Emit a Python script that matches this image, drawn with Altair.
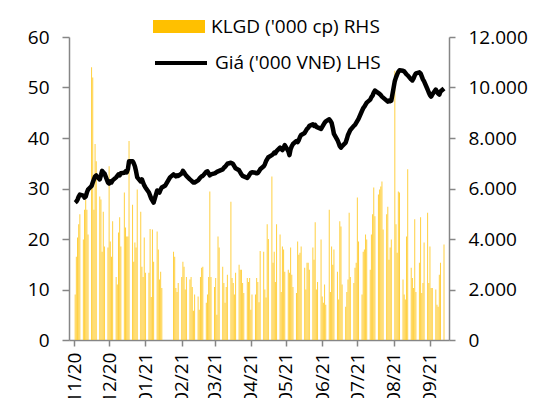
import altair as alt
import pandas as pd

FONT = "Open Sans"
FS = 19

# trading days (weekdays) 02/11/2020 .. 13/09/2021
dates = pd.bdate_range("2020-11-02", "2021-09-13").strftime("%Y-%m-%d").tolist()

# Giá ('000 VNĐ) - LHS
price = [
    27.2, 27.4, 27.8, 28.4, 28.8,
    28.6, 28.2, 28.4, 29.2, 29.8,
    30.5, 31.2, 31.8, 32.4, 32.6,
    31.8, 32.6, 33.5, 33.2, 33.0,
    31.2, 31.0, 31.4, 31.2, 31.6,
    32.2, 32.5, 32.8, 32.6, 33.0,
    33.1, 33.4, 33.2, 33.8, 35.4,
    35.4, 35.0, 34.4, 33.4, 32.2,
    31.4, 31.8, 31.2, 30.6, 30.2,
    29.2, 28.6, 28.0, 27.6, 27.2,
    29.6, 29.4, 29.2, 29.8, 30.2,
    30.6, 31.0, 31.4, 31.8, 32.2,
    32.8, 32.6, 32.4, 32.6, 32.5,
    33.0, 33.5, 33.2, 32.8, 32.5,
    31.8, 31.6, 31.4, 31.2, 31.2,
    31.6, 31.9, 32.2, 32.4, 32.5,
    33.3, 33.4, 33.0, 32.6, 32.8,
    33.0, 33.1, 33.3, 33.4, 33.5,
    33.8, 34.1, 34.3, 34.6, 34.9,
    35.1, 35.0, 34.8, 34.4, 34.0,
    33.6, 33.2, 32.8, 32.5, 32.4,
    32.1, 32.4, 32.8, 33.1, 33.2,
    33.1, 33.0, 33.1, 33.4, 33.8,
    34.4, 34.8, 35.4, 35.8, 36.2,
    36.6, 36.8, 37.1, 37.0, 37.4,
    38.1, 37.8, 37.6, 38.0, 38.6,
    37.4, 36.6, 37.8, 38.4, 38.8,
    39.4, 39.2, 39.6, 40.2, 40.6,
    41.0, 41.4, 41.8, 42.0, 42.4,
    42.7, 42.4, 42.6, 42.2, 42.1,
    41.8, 42.2, 42.6, 43.0, 43.3,
    43.7, 43.4, 43.0, 42.0, 40.8,
    39.6, 39.0, 38.4, 38.1, 38.4,
    39.1, 39.8, 40.6, 41.1, 41.6,
    42.4, 42.6, 43.0, 43.4, 43.8,
    45.4, 45.9, 46.2, 46.6, 47.0,
    47.6, 48.1, 48.4, 49.0, 49.4,
    48.9, 48.7, 48.5, 48.2, 48.0,
    47.4, 47.2, 47.4, 47.3, 47.4,
    51.3, 52.0, 52.6, 53.1, 53.4,
    53.3, 53.2, 52.9, 52.6, 52.4,
    51.6, 51.4, 51.8, 52.4, 52.8,
    53.0, 52.8, 52.2, 51.6, 51.2,
    49.6, 49.0, 48.5, 48.2, 48.6,
    49.6, 49.2, 48.8, 48.6, 49.2,
    49.8,
]

# KLGD ('000 cp) - RHS
volume = [
    1800, 3300, 4060, 4580, 4980,
    3980, 5160, 5560, 5160, 4180,
    10800, 10400, 5160, 7760, 7080,
    5680, 5560, 3500, 5080, 3700,
    3660, 6880, 3900, 3300, 4700,
    2500, 2200, 4260, 4860, 3700,
    5840, 4460, 4100, 4100, 7880,
    5360, 3100, 3860, 3660, 5960,
    5080, 2900, 2500, 4060, 2660,
    2660, 4400, 1700, 4380, 3100,
    4300, 3580, 2400, 2700, 2060,
    0, 0, 0, 0, 0,
    3500, 3300, 2060, 1900, 2260,
    2500, 3100, 2900, 2000, 2500,
    2400, 2500, 2100, 1160, 1800,
    1720, 1200, 2500, 2860, 2900,
    1480, 1800, 2500, 5880, 2500,
    2100, 2460, 1000, 4100, 3660,
    2900, 2260, 1480, 2100, 2580,
    5480, 2460, 2260, 1800, 2660,
    2980, 2780, 2780, 2260, 1860,
    2460, 2300, 2460, 1200, 1800,
    1800, 2460, 2300, 1500, 3520,
    3500, 2000, 1680, 4580, 4000,
    6480, 3060, 3500, 2300, 4580,
    4180, 1900, 3700, 3580, 2700,
    2780, 2660, 3660, 2580, 2100,
    1860, 3900, 3380, 3460, 3700,
    2860, 2000, 3060, 3060, 2780,
    3660, 3180, 4660, 2000, 2300,
    3980, 1720, 1480, 2200, 1400,
    5160, 1900, 3700, 2980, 3580,
    2700, 1600, 4700, 4500, 2200,
    1320, 1900, 2400, 5040, 2500,
    2260, 2860, 3060, 5640, 3900,
    1800, 3500, 3580, 4180, 3980,
    2780, 4180, 4980, 6040, 4900,
    5760, 5960, 6080, 6280, 4380,
    4980, 5280, 3180, 3660, 3980,
    10660, 4580, 3460, 5880, 5840,
    2400, 1800, 1600, 4100, 6760,
    2860, 2460, 2060, 4780, 1900,
    3060, 4860, 1860, 2260, 3860,
    5040, 2260, 3700, 2060, 2060,
    2000, 1400, 1320, 2580, 3060,
    3780,
]

S1 = "KLGD ('000 cp) RHS"
S2 = "Giá ('000 VNĐ) LHS"

df = pd.DataFrame({"date": dates, "price": price, "volume": volume})
df["s1"] = S1
df["s2"] = S2

months = [(2020, 11), (2020, 12), (2021, 1), (2021, 2), (2021, 3), (2021, 4),
          (2021, 5), (2021, 6), (2021, 7), (2021, 8), (2021, 9)]
tick_vals = [alt.DateTime(year=y, month=m, date=1, utc=True) for y, m in months]

x_enc = alt.X(
    "date:T",
    scale=alt.Scale(type="utc",
                    domain=[alt.DateTime(year=2020, month=11, date=1, utc=True),
                            alt.DateTime(year=2021, month=9, date=13, utc=True)]),
    axis=alt.Axis(values=tick_vals, labelExpr="utcFormat(datum.value, '%m/%y')",
                  labelAngle=270, labelAlign="right", labelBaseline="middle",
                  tickSize=6, labelPadding=6, title=None, grid=False),
)

GRAY = "#868686"

bars = alt.Chart(df).mark_bar(width=1.0, opacity=0.75).encode(
    x=x_enc,
    y=alt.Y("volume:Q",
            scale=alt.Scale(domain=[0, 12000], nice=False),
            axis=alt.Axis(orient="right", values=[0, 2000, 4000, 6000, 8000, 10000, 12000],
                          labelExpr="replace(format(datum.value, ','), ',', '.')",
                          tickSize=6, labelPadding=13, title=None, grid=False)),
    color=alt.Color("s1:N", scale=alt.Scale(domain=[S1], range=["#FFC000"]),
                    legend=alt.Legend(orient="none", legendX=84, legendY=-36.5, title=None,
                                      symbolType="M-1,-0.25H1V0.25H-1Z", symbolSize=2704,
                                      symbolStrokeWidth=0, symbolOpacity=1,
                                      labelFontSize=FS, labelFont=FONT, labelColor="black",
                                      labelLimit=400, labelOffset=6, padding=0)),
)

line = alt.Chart(df).mark_line(strokeWidth=4.5, strokeJoin="round").encode(
    x=x_enc,
    y=alt.Y("price:Q",
            scale=alt.Scale(domain=[0, 60], nice=False),
            axis=alt.Axis(orient="left", values=[0, 10, 20, 30, 40, 50, 60],
                          tickSize=7, labelPadding=13, title=None, grid=False)),
    stroke=alt.Stroke("s2:N", scale=alt.Scale(domain=[S2], range=["black"]),
                      legend=alt.Legend(orient="none", legendX=84, legendY=-2, title=None,
                                        symbolType="stroke", symbolSize=2704,
                                        symbolStrokeWidth=4, symbolStrokeColor="black",
                                        labelFontSize=FS, labelFont=FONT, labelColor="black",
                                        labelLimit=400, labelOffset=6, padding=0)),
)

chart = alt.layer(bars, line).resolve_scale(y="independent", color="independent").properties(
    width=380, height=303,
    autosize=alt.AutoSizeParams(type="none"),
    padding={"left": 61, "top": 29, "right": 79, "bottom": 58},
).configure_view(stroke=None).configure_axis(
    domainColor=GRAY, tickColor=GRAY, domainWidth=1.5, tickWidth=1.5,
    labelFont=FONT, labelFontSize=FS, labelColor="black",
)

chart.save("out.html", embed_options={"renderer": "svg", "actions": False})
